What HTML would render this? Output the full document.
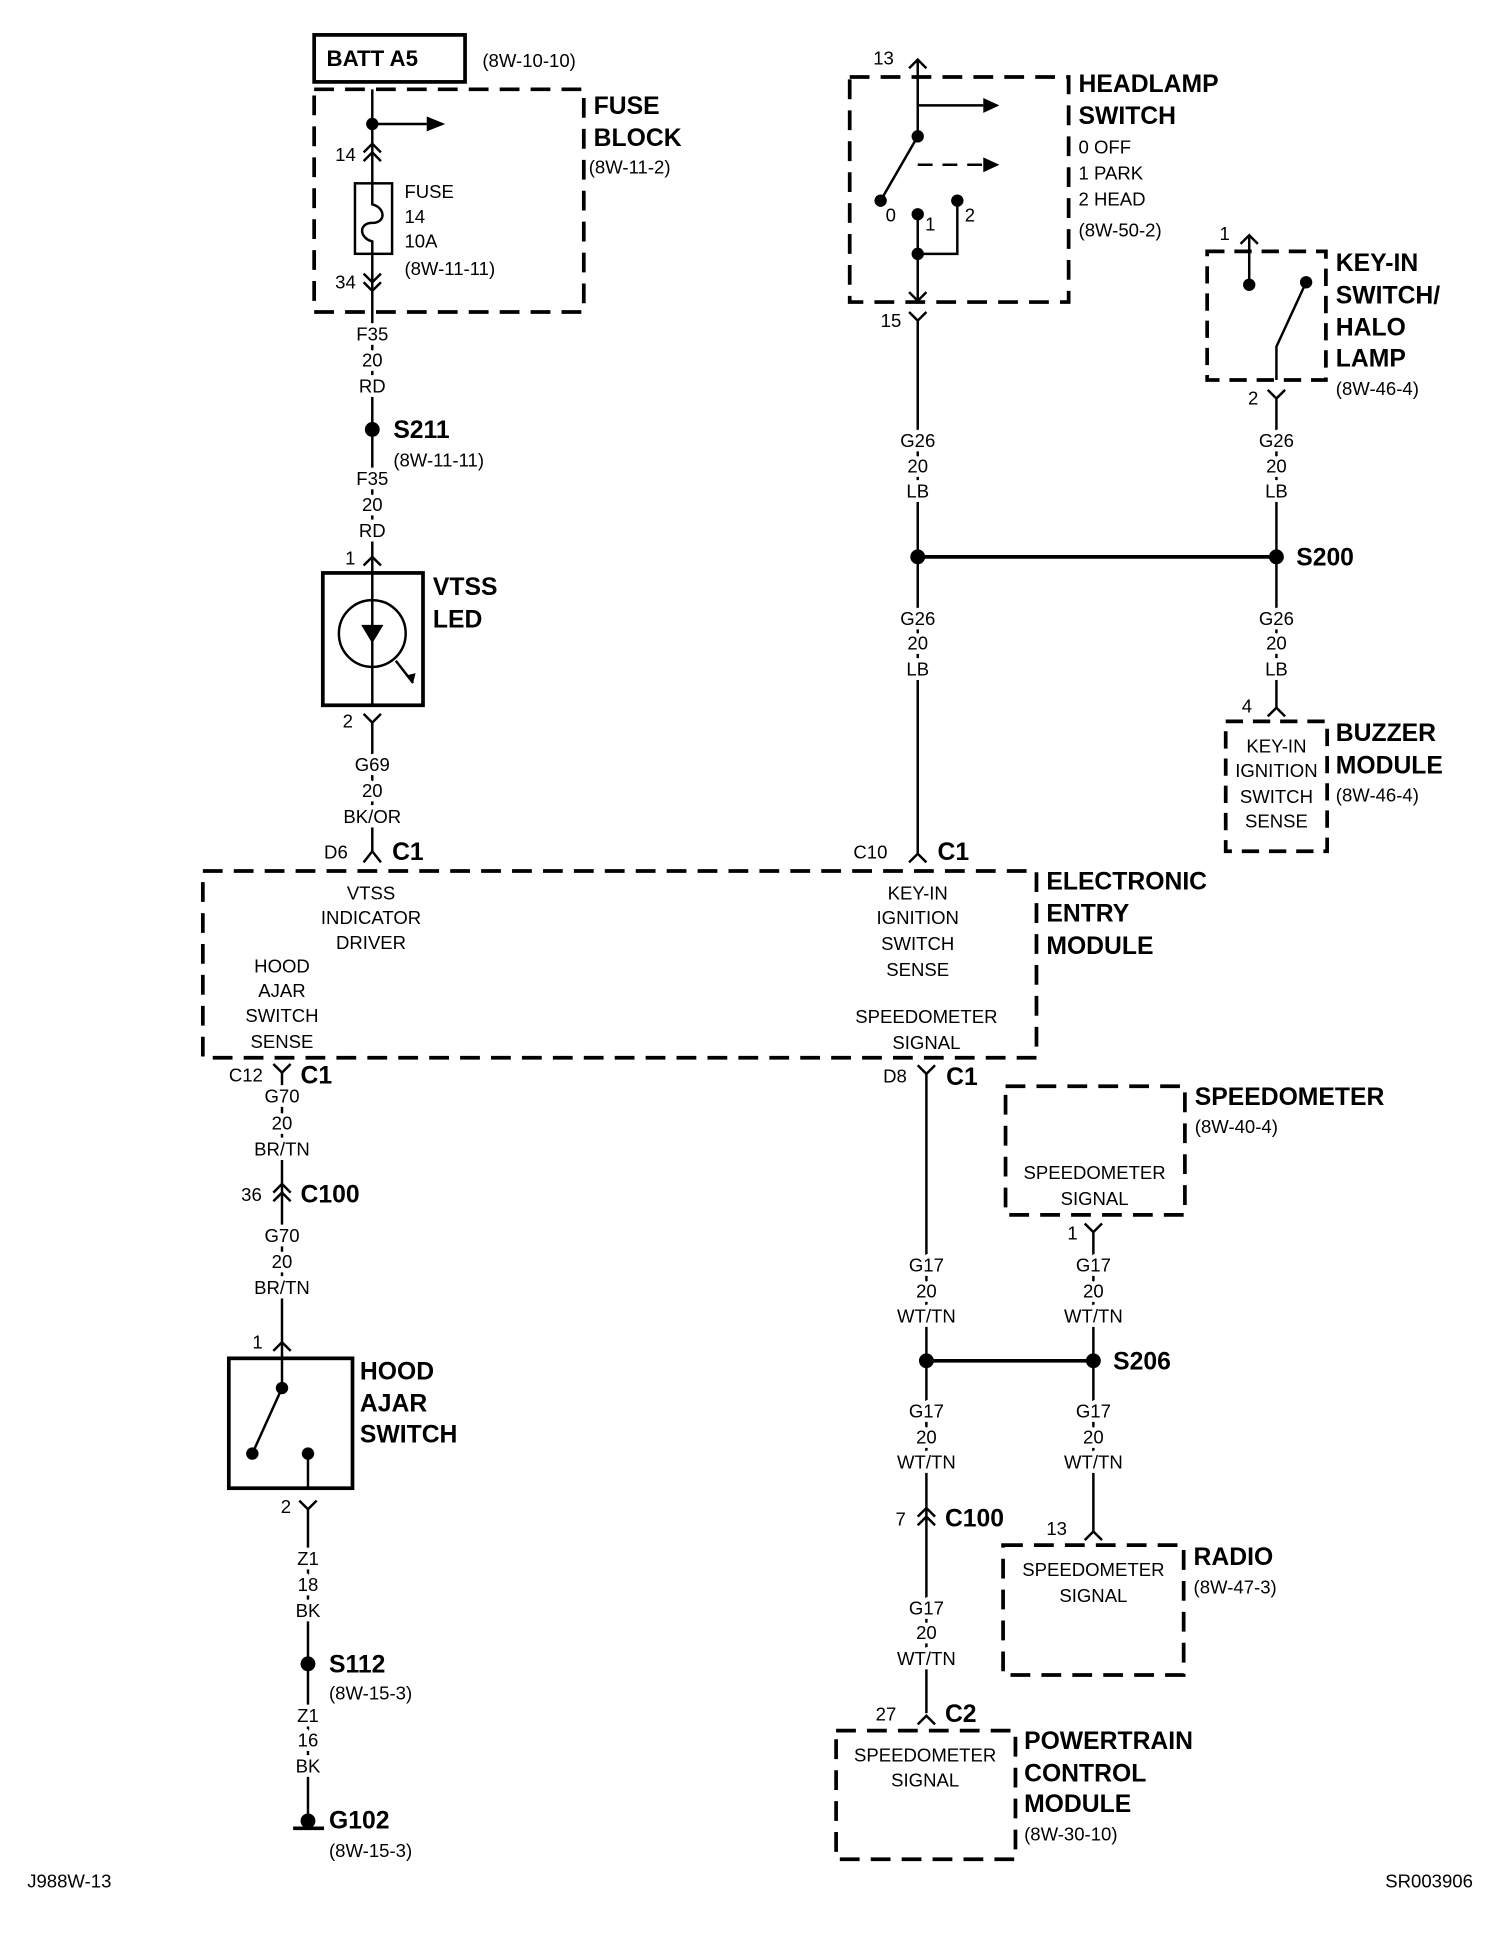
<!DOCTYPE html>
<html><head><meta charset="utf-8"><style>
html,body{margin:0;padding:0;background:#fff;}
svg{display:block;}
text{font-family:"Liberation Sans Narrow","Liberation Sans",sans-serif;fill:#000;font-size:15px;}
.b{font-weight:bold;font-size:20px;}
.m{text-anchor:middle;stroke:#fff;stroke-width:7px;paint-order:stroke;}
</style></head><body>
<svg width="1504" height="1956" viewBox="0 0 1216 1581" xmlns="http://www.w3.org/2000/svg">
<g stroke="#000" fill="none" stroke-width="2">
<rect x="254" y="28" width="122" height="38" stroke-width="3"/>
<rect x="254" y="72" width="218" height="180" stroke-width="3" stroke-dasharray="16,9"/>
<line x1="301" y1="72" x2="301" y2="148"/>
<line x1="301" y1="100" x2="345" y2="100"/>
<line x1="301" y1="205" x2="301" y2="463"/>
<rect x="287" y="148" width="30" height="57"/>
<path d="M301 148 V165 C312 168 312 180 301 180 C290 180 290 192 301 195 V205"/>
<path d="M294 123 L301 116 L308 123 M294 130 L301 123 L308 130"/>
<path d="M294 221 L301 228 L308 221 M294 228 L301 235 L308 228"/>
<path d="M294 457 L301 450 L308 457"/>
<rect x="261" y="463" width="81" height="107" stroke-width="3"/>
<circle cx="301" cy="512" r="27"/>
<line x1="301" y1="463" x2="301" y2="570"/>
<path d="M320 534 L334 552"/>
<path d="M294 577 L301 584 L308 577"/>
<line x1="301" y1="584" x2="301" y2="688"/>
<path d="M294 697 L301 688 L308 697"/>
<rect x="164" y="704" width="674" height="151" stroke-width="3" stroke-dasharray="16,9"/>
<path d="M221 860 L228 867 L235 860"/>
<line x1="228" y1="867" x2="228" y2="1098"/>
<path d="M221 964 L228 957 L235 964 M221 971 L228 964 L235 971"/>
<path d="M221 1092 L228 1085 L235 1092"/>
<rect x="185" y="1098" width="100" height="105" stroke-width="3"/>
<path d="M228 1098 V1122 M228 1122 L204 1175 M249 1175 V1203"/>
<path d="M242 1213 L249 1220 L256 1213"/>
<line x1="249" y1="1220" x2="249" y2="1466"/>
<line x1="237" y1="1478" x2="262" y2="1478" stroke-width="3"/>
<rect x="687" y="62" width="177" height="182" stroke-width="3" stroke-dasharray="16,9"/>
<path d="M735 55 L742 48 L749 55"/>
<path d="M742 48 V110 M742 85 H795 M742 110 L712 162 M742 173 V244 M742 205 H774 V162"/>
<line x1="742" y1="133" x2="795" y2="133" stroke-dasharray="12,8"/>
<path d="M735 236 L742 243 L749 236 M735 252 L742 259 L749 252"/>
<line x1="742" y1="259" x2="742" y2="690"/>
<line x1="742" y1="450" x2="1032" y2="450" stroke-width="3"/>
<path d="M735 697 L742 690 L749 697"/>
<rect x="976" y="203" width="96" height="104" stroke-width="3" stroke-dasharray="14,8"/>
<path d="M1003 197 L1010 190 L1017 197 M1010 190 V230 M1056 228 L1032 280 V307"/>
<path d="M1025 315 L1032 322 L1039 315"/>
<line x1="1032" y1="322" x2="1032" y2="572"/>
<path d="M1025 579 L1032 572 L1039 579"/>
<rect x="991" y="583" width="82" height="105" stroke-width="3" stroke-dasharray="14,8"/>
<path d="M742 861 L749 868 L756 861"/>
<line x1="749" y1="868" x2="749" y2="1385"/>
<line x1="749" y1="1100" x2="884" y2="1100" stroke-width="3"/>
<path d="M742 1226 L749 1219 L756 1226 M742 1233 L749 1226 L756 1233"/>
<path d="M742 1394 L749 1387 L756 1394"/>
<rect x="676" y="1399" width="145" height="104" stroke-width="3" stroke-dasharray="16,9"/>
<rect x="813" y="878" width="145" height="104" stroke-width="3" stroke-dasharray="16,9"/>
<path d="M877 989 L884 996 L891 989"/>
<line x1="884" y1="996" x2="884" y2="1238"/>
<path d="M877 1245 L884 1238 L891 1245"/>
<rect x="811" y="1249" width="146" height="105" stroke-width="3" stroke-dasharray="16,9"/>
</g>
<g fill="#000">
<path d="M345 94 L360 100 L345 106Z"/>
<path d="M795 79 L808 85 L795 91Z"/>
<path d="M795 127 L808 133 L795 139Z"/>
<path d="M292 505 L310 505 L301 520Z"/>
<path d="M334 552 L328 546 L336 544Z"/>
<circle cx="301" cy="100" r="5"/><circle cx="301" cy="347" r="6"/>
<circle cx="742" cy="110" r="5"/><circle cx="712" cy="162" r="5"/><circle cx="742" cy="173" r="5"/><circle cx="774" cy="162" r="5"/><circle cx="742" cy="205" r="5"/>
<circle cx="742" cy="450" r="6"/><circle cx="1032" cy="450" r="6"/>
<circle cx="1010" cy="230" r="5"/><circle cx="1056" cy="228" r="5"/>
<circle cx="228" cy="1122" r="5"/><circle cx="204" cy="1175" r="5"/><circle cx="249" cy="1175" r="5"/>
<circle cx="249" cy="1345" r="6"/><circle cx="249" cy="1472" r="6"/>
<circle cx="749" cy="1100" r="6"/><circle cx="884" cy="1100" r="6"/>
</g>
<text x="264" y="53" class="b" style="font-size:18px">BATT A5</text>
<text x="390" y="54">(8W-10-10)</text>
<text x="480" y="92" class="b">FUSE</text><text x="480" y="118" class="b">BLOCK</text><text x="476" y="140">(8W-11-2)</text>
<text x="271" y="130">14</text><text x="271" y="233">34</text>
<text x="327" y="160">FUSE</text><text x="327" y="180">14</text><text x="327" y="200">10A</text><text x="327" y="222">(8W-11-11)</text>
<text x="301" y="275" class="m">F35</text><text x="301" y="296" class="m">20</text><text x="301" y="317" class="m">RD</text>
<text x="301" y="392" class="m">F35</text><text x="301" y="413" class="m">20</text><text x="301" y="434" class="m">RD</text>
<text x="318" y="354" class="b">S211</text><text x="318" y="377">(8W-11-11)</text>
<text x="279" y="456">1</text><text x="350" y="481" class="b">VTSS</text><text x="350" y="507" class="b">LED</text>
<text x="277" y="588">2</text>
<text x="301" y="623" class="m">G69</text><text x="301" y="644" class="m">20</text><text x="301" y="665" class="m">BK/OR</text>
<text x="262" y="694">D6</text><text x="317" y="695" class="b">C1</text>
<text x="690" y="694">C10</text><text x="758" y="695" class="b">C1</text>
<text x="300" y="727" class="m">VTSS</text><text x="300" y="747" class="m">INDICATOR</text><text x="300" y="767" class="m">DRIVER</text>
<text x="228" y="786" class="m">HOOD</text><text x="228" y="806" class="m">AJAR</text><text x="228" y="826" class="m">SWITCH</text><text x="228" y="847" class="m">SENSE</text>
<text x="742" y="727" class="m">KEY-IN</text><text x="742" y="747" class="m">IGNITION</text><text x="742" y="768" class="m">SWITCH</text><text x="742" y="789" class="m">SENSE</text>
<text x="749" y="827" class="m">SPEEDOMETER</text><text x="749" y="848" class="m">SIGNAL</text>
<text x="846" y="719" class="b">ELECTRONIC</text><text x="846" y="745" class="b">ENTRY</text><text x="846" y="771" class="b">MODULE</text>
<text x="185" y="874">C12</text><text x="243" y="876" class="b">C1</text>
<text x="228" y="891" class="m">G70</text><text x="228" y="913" class="m">20</text><text x="228" y="934" class="m">BR/TN</text>
<text x="195" y="971">36</text><text x="243" y="972" class="b">C100</text>
<text x="228" y="1004" class="m">G70</text><text x="228" y="1025" class="m">20</text><text x="228" y="1046" class="m">BR/TN</text>
<text x="204" y="1090">1</text>
<text x="291" y="1115" class="b">HOOD</text><text x="291" y="1141" class="b">AJAR</text><text x="291" y="1166" class="b">SWITCH</text>
<text x="227" y="1223">2</text>
<text x="249" y="1265" class="m">Z1</text><text x="249" y="1286" class="m">18</text><text x="249" y="1307" class="m">BK</text>
<text x="266" y="1352" class="b">S112</text><text x="266" y="1374">(8W-15-3)</text>
<text x="249" y="1392" class="m">Z1</text><text x="249" y="1412" class="m">16</text><text x="249" y="1433" class="m">BK</text>
<text x="266" y="1478" class="b">G102</text><text x="266" y="1501">(8W-15-3)</text>
<text x="22" y="1526">J988W-13</text><text x="1120" y="1526">SR003906</text>
<text x="706" y="52">13</text><text x="712" y="264">15</text>
<text x="716" y="179">0</text><text x="748" y="186">1</text><text x="780" y="179">2</text>
<text x="872" y="74" class="b">HEADLAMP</text><text x="872" y="100" class="b">SWITCH</text>
<text x="872" y="124">0 OFF</text><text x="872" y="145">1 PARK</text><text x="872" y="166">2 HEAD</text><text x="872" y="191">(8W-50-2)</text>
<text x="742" y="361" class="m">G26</text><text x="742" y="382" class="m">20</text><text x="742" y="402" class="m">LB</text>
<text x="742" y="505" class="m">G26</text><text x="742" y="525" class="m">20</text><text x="742" y="546" class="m">LB</text>
<text x="986" y="194">1</text><text x="1009" y="327">2</text>
<text x="1080" y="219" class="b">KEY-IN</text><text x="1080" y="245" class="b">SWITCH/</text><text x="1080" y="271" class="b">HALO</text><text x="1080" y="296" class="b">LAMP</text><text x="1080" y="319">(8W-46-4)</text>
<text x="1032" y="361" class="m">G26</text><text x="1032" y="382" class="m">20</text><text x="1032" y="402" class="m">LB</text>
<text x="1048" y="457" class="b">S200</text>
<text x="1032" y="505" class="m">G26</text><text x="1032" y="525" class="m">20</text><text x="1032" y="546" class="m">LB</text>
<text x="1004" y="576">4</text>
<text x="1032" y="608" class="m">KEY-IN</text><text x="1032" y="628" class="m">IGNITION</text><text x="1032" y="649" class="m">SWITCH</text><text x="1032" y="669" class="m">SENSE</text>
<text x="1080" y="599" class="b">BUZZER</text><text x="1080" y="625" class="b">MODULE</text><text x="1080" y="648">(8W-46-4)</text>
<text x="714" y="875">D8</text><text x="765" y="877" class="b">C1</text>
<text x="966" y="893" class="b">SPEEDOMETER</text><text x="966" y="916">(8W-40-4)</text>
<text x="885" y="953" class="m">SPEEDOMETER</text><text x="885" y="974" class="m">SIGNAL</text>
<text x="863" y="1002">1</text>
<text x="749" y="1028" class="m">G17</text><text x="749" y="1049" class="m">20</text><text x="749" y="1069" class="m">WT/TN</text>
<text x="884" y="1028" class="m">G17</text><text x="884" y="1049" class="m">20</text><text x="884" y="1069" class="m">WT/TN</text>
<text x="900" y="1107" class="b">S206</text>
<text x="749" y="1146" class="m">G17</text><text x="749" y="1167" class="m">20</text><text x="749" y="1187" class="m">WT/TN</text>
<text x="884" y="1146" class="m">G17</text><text x="884" y="1167" class="m">20</text><text x="884" y="1187" class="m">WT/TN</text>
<text x="724" y="1233">7</text><text x="764" y="1234" class="b">C100</text>
<text x="846" y="1241">13</text>
<text x="884" y="1274" class="m">SPEEDOMETER</text><text x="884" y="1295" class="m">SIGNAL</text>
<text x="965" y="1265" class="b">RADIO</text><text x="965" y="1288">(8W-47-3)</text>
<text x="749" y="1305" class="m">G17</text><text x="749" y="1325" class="m">20</text><text x="749" y="1346" class="m">WT/TN</text>
<text x="708" y="1391">27</text><text x="764" y="1392" class="b">C2</text>
<text x="748" y="1424" class="m">SPEEDOMETER</text><text x="748" y="1444" class="m">SIGNAL</text>
<text x="828" y="1414" class="b">POWERTRAIN</text><text x="828" y="1440" class="b">CONTROL</text><text x="828" y="1465" class="b">MODULE</text><text x="828" y="1488">(8W-30-10)</text>
</svg>
</body></html>
